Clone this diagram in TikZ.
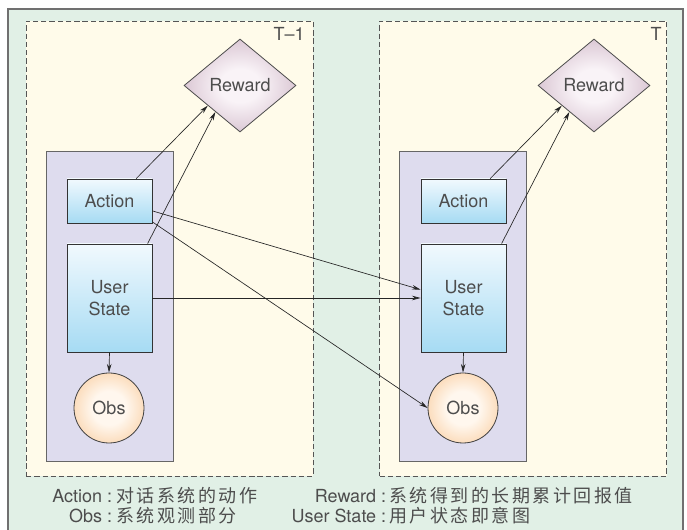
\documentclass[tikz,border=0pt]{standalone}
\usepackage{fontspec}
\setmainfont{TeX Gyre Heros}
\newfontfamily\cjk[LetterSpace=14]{Noto Sans CJK SC}
\usetikzlibrary{shapes.geometric,arrows.meta}
\definecolor{bggreen}{HTML}{E1F0E6}
\definecolor{framegray}{HTML}{707070}
\definecolor{cream}{HTML}{FFFBEA}
\definecolor{dashc}{HTML}{555555}
\definecolor{panel}{HTML}{DEDCEE}
\definecolor{panelb}{HTML}{666666}
\definecolor{boxtop}{HTML}{F1F9FE}
\definecolor{boxbot}{HTML}{A6DBF3}
\definecolor{rwin}{HTML}{F9F3F7}
\definecolor{rwmid}{HTML}{CDB3C4}
\definecolor{rwout}{HTML}{B391A8}
\definecolor{obsin}{HTML}{FFF7EE}
\definecolor{obsmid}{HTML}{F9CB9C}
\definecolor{obsout}{HTML}{F4AE6E}
\definecolor{txt}{HTML}{4D4D4D}
\pgfdeclareradialshading{rwshade}{\pgfpoint{0bp}{0bp}}{color(0bp)=(rwin); color(9bp)=(rwin); color(33bp)=(rwmid); color(50bp)=(rwout)}
\pgfdeclareradialshading{obsshade}{\pgfpoint{0bp}{0bp}}{color(0bp)=(obsin); color(12bp)=(obsin); color(34bp)=(obsmid); color(50bp)=(obsout)}
\begin{document}
\begin{tikzpicture}[x=0.75pt,y=-0.75pt,
  every node/.style={font=\fontsize{13.5}{16}\selectfont, text=txt},
  frame/.style={draw=dashc, dashed, dash pattern=on 4pt off 2.2pt, fill=cream, line width=0.6pt, minimum width=287*0.75pt, minimum height=455*0.75pt, inner sep=0pt},
  panelbox/.style={draw=panelb, fill=panel, line width=0.6pt, minimum width=127*0.75pt, minimum height=310*0.75pt, inner sep=0pt},
  actbox/.style={draw=black!80, top color=boxtop, bottom color=boxbot, line width=0.6pt, minimum width=85*0.75pt, minimum height=44*0.75pt, inner sep=0pt},
  usbox/.style={draw=black!80, top color=boxtop, bottom color=boxbot, line width=0.6pt, minimum width=85*0.75pt, minimum height=108*0.75pt, inner sep=0pt, align=center},
  obsnode/.style={circle, draw=black!75, shading=obsshade, line width=0.6pt, minimum size=70*0.75pt, inner sep=0pt},
  rwnode/.style={diamond, draw=black!70, shading=rwshade, line width=0.6pt, minimum width=112*0.75pt, minimum height=93*0.75pt, inner sep=0pt},
  arr/.style={-{Stealth[length=6.5pt,width=3.4pt]}, line width=0.5pt, draw=black!85},
  lab/.style={inner sep=0pt}
]
\useasboundingbox (0,0) rectangle (687,530);
\fill[bggreen] (8,9) rectangle (684,531);
\draw[framegray, line width=0.9pt] (8,531) -- (8,9) -- (683,9) -- (683,531);

\node[frame] (f1) at (169.5,248.5) {};
\node[frame] (f2) at (523,248.5) {};
\node[anchor=north east, inner sep=0pt] (t1) at (305,27) {T–1};
\node[anchor=north east, inner sep=0pt] (t2) at (662,27) {T};

\node[panelbox] (p1) at (109.5,306) {};
\node[panelbox] (p2) at (463,306) {};

\node[rwnode] (r1) at (240,85.5) {Reward};
\node[rwnode] (r2) at (594,85.5) {Reward};

\node[actbox] (a1) at (109.5,201) {Action};
\node[actbox] (a2) at (463.5,201) {Action};
\node[usbox] (u1) at (109.5,298) {User\\State};
\node[usbox] (u2) at (463.5,298) {User\\State};
\node[obsnode] (o1) at (109,408) {Obs};
\node[obsnode] (o2) at (463,408) {Obs};

\draw[arr] (a1.40) -- (r1.212);
\draw[arr] (u1.55) -- (r1.227);
\draw[arr] (a2.40) -- (r2.212);
\draw[arr] (u2.55) -- (r2.227);
\draw[arr] (u1.south) -- (o1.north);
\draw[arr] (u2.south) -- (o2.north);
\draw[arr] (a1.-13) -- (u2.169);
\draw[arr] (a1.-26) -- (o2.west);
\draw[arr] (u1.east) -- (u2.west);

\node[lab, anchor=base east] (k1) at (112.5,503) {Action :};
\node[lab, anchor=base west] (v1) at (116,503) {\cjk 对话系统的动作};
\node[lab, anchor=base east] (k2) at (112.5,523) {Obs :};
\node[lab, anchor=base west] (v2) at (116,523) {\cjk 系统观测部分};
\node[lab, anchor=base east] (k3) at (386.5,503) {Reward :};
\node[lab, anchor=base west] (v3) at (389,503) {\cjk 系统得到的长期累计回报值};
\node[lab, anchor=base east] (k4) at (386.5,523) {User State :};
\node[lab, anchor=base west] (v4) at (389,523) {\cjk 用户状态即意图};
\end{tikzpicture}
\end{document}
